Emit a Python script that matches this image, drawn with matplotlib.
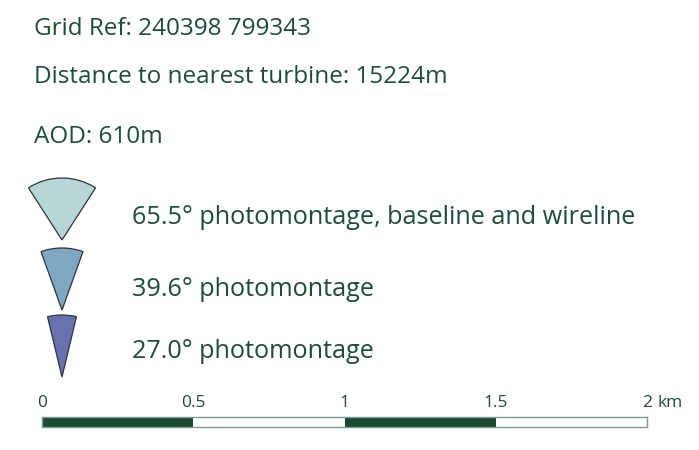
import matplotlib
matplotlib.use("Agg")
import matplotlib.pyplot as plt
import matplotlib.transforms as mtrans
from matplotlib.patches import Wedge

# ---- data ----
info_lines = ["Grid Ref: 240398 799343",
              "Distance to nearest turbine: 15224m",
              "AOD: 610m"]
fov_angles = [65.5, 39.6, 27.0]
fov_labels = ["65.5° photomontage, baseline and wireline",
              "39.6° photomontage",
              "27.0° photomontage"]
fov_colors = ["#b6d6d8", "#7fa7c1", "#6872b1"]
scale_ticks = [0, 0.5, 1, 1.5, 2]
scale_labels = ["0", "0.5", "1", "1.5", "2"]
scale_unit = "km"
scale_fill = ["#1b4a32", "white", "#1b4a32", "white"]

W, H = 699, 450
TXT = "#1e4d37"
FONT = ["Open Sans", "DejaVu Sans"]

fig = plt.figure(figsize=(W / 100, H / 100), dpi=100)
ax = fig.add_axes([0, 0, 1, 1])
ax.set_xlim(0, W)
ax.set_ylim(H, 0)
ax.axis("off")

# header lines
info_y = [29, 77, 137]
for s, y in zip(info_lines, info_y):
    ax.text(34, y, s, fontsize=17.5, color=TXT, family=FONT, va="center", ha="left")

# field of view wedges
apex_y = [240, 310, 377]
label_y = [218, 290, 352]
R = 62
for ang, lab, col, ay, ly in zip(fov_angles, fov_labels, fov_colors, apex_y, label_y):
    w = Wedge((62, ay), R, 270 - ang / 2, 270 + ang / 2, facecolor=col,
              edgecolor="#2e3436", linewidth=0.9)
    ax.add_patch(w)
    ax.text(132, ly, lab, fontsize=18.2, color=TXT, family=FONT, va="center", ha="left")

# scale bar
x0, x1 = 42, 647
ytop, ybot = 417, 427
sax = fig.add_axes([x0 / W, 1 - ybot / H, (x1 - x0) / W, (ybot - ytop) / H])
sax.set_xlim(scale_ticks[0], scale_ticks[-1])
sax.set_ylim(0, 1)
for i in range(len(scale_ticks) - 1):
    sax.barh(0.5, scale_ticks[i + 1] - scale_ticks[i], left=scale_ticks[i], height=1,
             color=scale_fill[i], edgecolor="none")
for sp in sax.spines.values():
    sp.set_color("#7f9b8a")
    sp.set_linewidth(1)
sax.set_yticks([])
sax.xaxis.set_ticks_position("top")
sax.set_xticks(scale_ticks)
sax.set_xticklabels(scale_labels, color=TXT, fontsize=12.5, family=FONT)
sax.tick_params(axis="x", length=0, pad=4)
# unit after the last label
blend = mtrans.blended_transform_factory(sax.transData, sax.transAxes)
off = mtrans.offset_copy(blend, fig=fig, x=7.5, y=4, units="points")
sax.text(scale_ticks[-1], 1.0, scale_unit, transform=off, color=TXT, fontsize=12.5,
         family=FONT, ha="left", va="bottom")

fig.savefig("out.png", dpi=100, facecolor="white")
